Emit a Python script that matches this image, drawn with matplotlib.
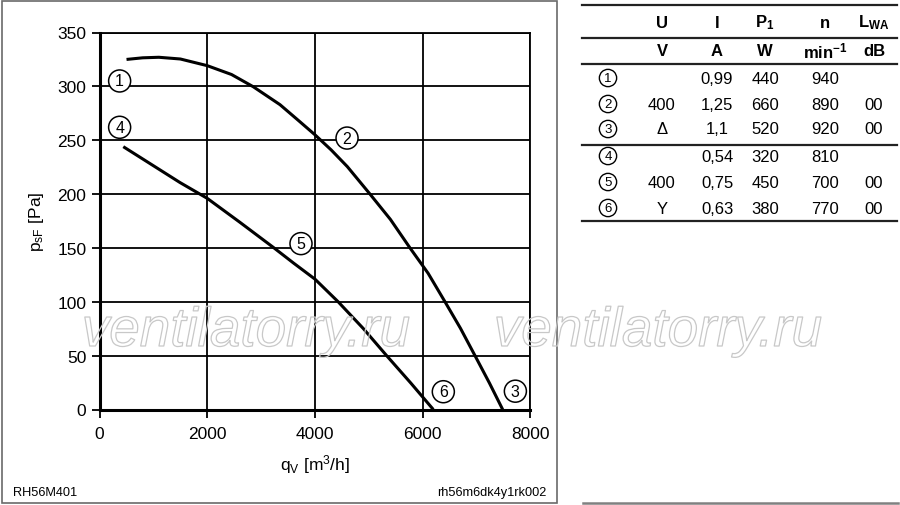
import matplotlib
matplotlib.use("Agg")
import matplotlib.pyplot as plt
import matplotlib.patheffects as pe
from matplotlib.lines import Line2D
from matplotlib.patches import Rectangle

plt.rcParams['font.family'] = ['Liberation Sans', 'DejaVu Sans']
plt.rcParams['mathtext.fontset'] = 'custom'
plt.rcParams['mathtext.rm'] = 'Liberation Sans'
plt.rcParams['mathtext.it'] = 'Liberation Sans:italic'
plt.rcParams['mathtext.bf'] = 'Liberation Sans:bold'

# ---- data ----
q_curve1 = [500, 800, 1100, 1500, 2000, 2450, 2855, 3350, 3700, 4000, 4300, 4600,
            5021, 5400, 5764, 6100, 6414, 6700, 6971, 7240, 7485]
p_curve1 = [325, 326.5, 327, 325.4, 319.2, 311, 299.6, 283, 268, 255, 241, 225.5,
            200, 176.5, 150, 126.5, 100, 75.5, 50, 24.5, 0]
q_curve2 = [440, 1000, 1493, 2000, 2600, 3226, 3600, 4000, 4430, 4900, 5330, 5780, 6197]
p_curve2 = [244, 226.3, 210.7, 196, 174, 150.5, 136, 121, 100, 75, 50, 24.5, 0]

label_ids = ['1', '2', '3', '4', '5', '6']
label_q = [372, 4595, 7721, 372, 3740, 6383]
label_p = [305, 252, 17, 262, 154, 16.5]

x_ticks = [0, 2000, 4000, 6000, 8000]
y_ticks = [0, 50, 100, 150, 200, 250, 300, 350]

tbl_head1 = ['U', 'I', r'$\mathbf{P_1}$', 'n', r'$\mathbf{L_{WA}}$']
tbl_head2 = ['V', 'A', 'W', r'$\mathbf{min^{-1}}$', 'dB']
tbl_U = ['', '400', 'Δ', '', '400', 'Y']
tbl_I = ['0,99', '1,25', '1,1', '0,54', '0,75', '0,63']
tbl_P = ['440', '660', '520', '320', '450', '380']
tbl_n = ['940', '890', '920', '810', '700', '770']
tbl_L = ['', '00', '00', '', '00', '00']

W, H = 900, 506
fig = plt.figure(figsize=(9, 5.06), dpi=100)

def fx(px):
    return px / W

def fy(py):
    return 1 - py / H

ax = fig.add_axes([fx(99.6), fy(410.5), (530.4 - 99.6) / W, (410.5 - 33.5) / H])
ax.plot(q_curve1, p_curve1, color='black', lw=2.2, zorder=3, solid_capstyle='butt',
        solid_joinstyle='round')
ax.plot(q_curve2, p_curve2, color='black', lw=2.2, zorder=3, solid_capstyle='butt',
        solid_joinstyle='round')
ax.set_xlim(0, 8000)
ax.set_ylim(0, 350)
ax.set_xticks(x_ticks)
ax.set_yticks(y_ticks)
ax.grid(True, color='black', lw=1.3)
ax.tick_params(direction='out', length=6, width=1.3, labelsize=12.5)
ax.tick_params(axis='x', pad=6)
for s in ['left', 'bottom']:
    ax.spines[s].set_linewidth(2.2)
for s in ['top', 'right']:
    ax.spines[s].set_linewidth(1.3)
ax.set_xlabel(r'q$_\mathregular{V}$ [m$^\mathregular{3}$/h]', fontsize=12.5, labelpad=8)
ax.set_ylabel(r'p$_\mathregular{sF}$ [Pa]', fontsize=12.5, labelpad=8)

for lid, lq, lp in zip(label_ids, label_q, label_p):
    ax.text(lq, lp, lid, fontsize=11.5, ha='center', va='center', zorder=5,
            bbox=dict(boxstyle='circle,pad=0.22', fc='white', ec='black', lw=1.1))

# outer frame
fig.add_artist(Rectangle((fx(2), fy(504)), (557 - 2) / W, (504 - 2) / H,
                         transform=fig.transFigure, fill=False, ec='#6a6a6a', lw=1.2))
fig.text(fx(13), fy(493), 'RH56M401', fontsize=9.2, ha='left', va='center')
fig.text(fx(546), fy(493), 'rh56m6dk4y1rk002', fontsize=9.2, ha='right', va='center')

# watermark
for cx in [246, 658]:
    fig.text(fx(cx), fy(333), 'ventilatorry.ru', fontsize=39.5, style='italic',
             ha='center', va='center', color=(1, 1, 1, 0), zorder=10,
             path_effects=[pe.Stroke(linewidth=0.9, foreground='#c8c8c8')])

# table
col_x = [662, 717, 765, 825, 874]
for y in [6, 39, 65, 146, 222]:
    fig.add_artist(Line2D([fx(582), fx(897)], [fy(y), fy(y)], color='#222222', lw=1.6))
fig.add_artist(Line2D([fx(583), fx(898)], [fy(504), fy(504)], color='#808080', lw=1.8))
for x, t in zip(col_x, tbl_head1):
    fig.text(fx(x), fy(23), t, fontsize=12, fontweight='bold', ha='center', va='center')
for x, t in zip(col_x, tbl_head2):
    fig.text(fx(x), fy(51), t, fontsize=12, fontweight='bold', ha='center', va='center')
row_y = [79, 105, 130, 157, 183, 209]
for i, y in enumerate(row_y):
    fig.text(fx(608), fy(y), label_ids[i], fontsize=9.5, ha='center', va='center',
             bbox=dict(boxstyle='circle,pad=0.2', fc='white', ec='black', lw=1.0))
    for x, col in zip(col_x, [tbl_U, tbl_I, tbl_P, tbl_n, tbl_L]):
        if col[i]:
            fig.text(fx(x), fy(y), col[i], fontsize=12, ha='center', va='center')

fig.savefig('out.png', dpi=100)
